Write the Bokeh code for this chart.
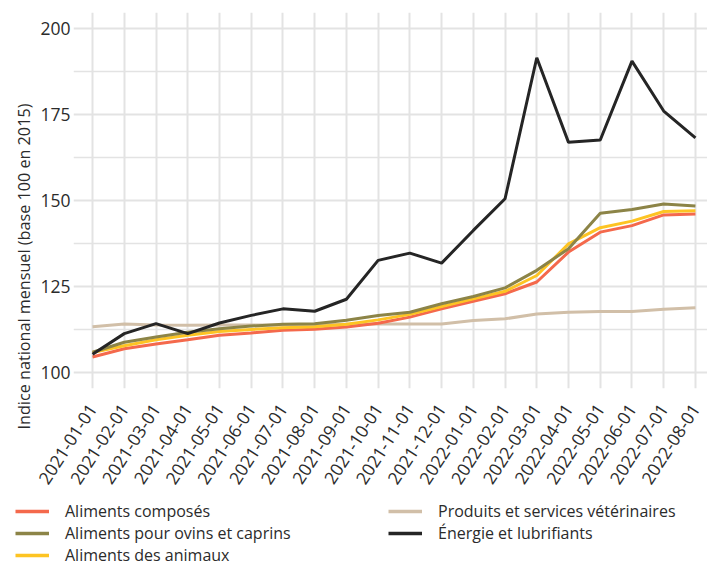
import math
from bokeh.plotting import figure
from bokeh.models import FixedTicker, Legend, LegendItem, Title
from bokeh.embed import file_html
from bokeh.resources import INLINE

months = ["2021-01-01", "2021-02-01", "2021-03-01", "2021-04-01", "2021-05-01",
          "2021-06-01", "2021-07-01", "2021-08-01", "2021-09-01", "2021-10-01",
          "2021-11-01", "2021-12-01", "2022-01-01", "2022-02-01", "2022-03-01",
          "2022-04-01", "2022-05-01", "2022-06-01", "2022-07-01", "2022-08-01"]

aliments_composes = [104.5, 106.9, 108.3, 109.5, 110.8, 111.5, 112.3, 112.6, 113.2, 114.3,
                     116.1, 118.5, 120.7, 122.9, 126.3, 135.0, 140.8, 142.7, 145.8, 146.1]
aliments_ovins_caprins = [105.9, 108.8, 110.3, 111.7, 112.7, 113.5, 114.0, 114.2, 115.2, 116.6,
                          117.5, 120.0, 122.1, 124.6, 129.7, 136.0, 146.3, 147.4, 149.0, 148.4]
aliments_animaux = [105.8, 107.8, 109.5, 110.8, 111.9, 112.5, 113.0, 113.3, 114.0, 115.3,
                    116.9, 119.2, 121.4, 123.6, 128.2, 137.4, 142.1, 144.0, 146.8, 147.0]
produits_veterinaires = [113.3, 114.1, 113.8, 113.7, 113.8, 113.8, 113.8, 113.9, 114.0, 114.1,
                         114.1, 114.1, 115.1, 115.6, 117.0, 117.5, 117.7, 117.7, 118.4, 118.8]
energie_lubrifiants = [105.3, 111.3, 114.2, 111.3, 114.4, 116.6, 118.5, 117.8, 121.3, 132.6,
                       134.7, 131.8, 141.3, 150.5, 191.5, 166.9, 167.6, 190.5, 176.0, 168.2]

y_ticks = [100, 125, 150, 175, 200]
y_minor = [87.5, 112.5, 137.5, 162.5, 187.5, 212.5]

series = [
    ("Aliments composés", aliments_composes, "#F4694C"),
    ("Aliments pour ovins et caprins", aliments_ovins_caprins, "#8C8447"),
    ("Aliments des animaux", aliments_animaux, "#FDC423"),
    ("Produits et services vétérinaires", produits_veterinaires, "#D1BFA8"),
    ("Énergie et lubrifiants", energie_lubrifiants, "#252525"),
]

x = list(range(len(months)))
FONT = "Open Sans"
TXT = "#2b2b2b"

# ---------------- main chart ----------------
p = figure(width=707, height=500, output_backend="svg", toolbar_location=None,
           x_range=(-0.6, 19.38), y_range=(95.35, 204.65),
           min_border_left=73, min_border_right=0, min_border_top=12, min_border_bottom=112)
p.outline_line_color = None
p.background_fill_color = "white"

p.xgrid.grid_line_color = "#e3e3e3"
p.xgrid.grid_line_width = 2
p.ygrid.grid_line_color = "#e3e3e3"
p.ygrid.grid_line_width = 2
p.ygrid.minor_grid_line_color = "#e3e3e3"
p.ygrid.minor_grid_line_width = 1.3

p.yaxis.ticker = FixedTicker(ticks=y_ticks, minor_ticks=y_minor)
p.xaxis.ticker = FixedTicker(ticks=x)
p.xaxis.major_label_overrides = {i: m for i, m in enumerate(months)}
p.xaxis.major_label_orientation = math.radians(57)
for ax in (p.xaxis, p.yaxis):
    ax.axis_line_color = None
    ax.major_tick_line_color = None
    ax.minor_tick_line_color = None
    ax.major_tick_out = 0
    ax.minor_tick_out = 0
    ax.major_label_text_font = FONT
    ax.major_label_text_font_size = "17.5px"
    ax.major_label_text_color = TXT
p.yaxis.major_label_standoff = 3
p.xaxis.major_label_standoff = 17

order = [3, 0, 2, 1, 4]  # draw order: beige, coral, yellow, olive, black
for k in order:
    name, vals, col = series[k]
    p.line(x, vals, line_color=col, line_width=3)

p.add_layout(Title(text="Indice national mensuel (base 100 en 2015)", align="left", offset=-41,
                   text_font=FONT, text_font_size="16.2px", text_font_style="normal",
                   text_color=TXT, standoff=6), "left")

# ---------------- legend strip ----------------
lg = figure(width=707, height=66, output_backend="svg", toolbar_location=None,
            x_range=(0, 1), y_range=(0, 1),
            x_axis_location=None, y_axis_location=None,
            min_border_left=0, min_border_right=0, min_border_top=0, min_border_bottom=0)
lg.grid.visible = False
lg.outline_line_color = None

leg_r = {}
for name, vals, col in series:
    leg_r[name] = lg.line(x, vals, line_color=col, line_width=3.5)

def make_legend(names, loc):
    return Legend(items=[LegendItem(label=n, renderers=[leg_r[n]]) for n in names],
                  location=loc, orientation="vertical",
                  glyph_width=34, glyph_height=20, label_height=20, label_standoff=16,
                  spacing=0, padding=0, margin=0,
                  border_line_color=None, background_fill_alpha=0,
                  label_text_font=FONT, label_text_font_size="16px", label_text_color=TXT)

lg.add_layout(make_legend([s[0] for s in series[:3]], (15, 0)))
lg.add_layout(make_legend([s[0] for s in series[3:]], (388, 22)))

open("out.html", "w").write(file_html((p, lg), INLINE))
